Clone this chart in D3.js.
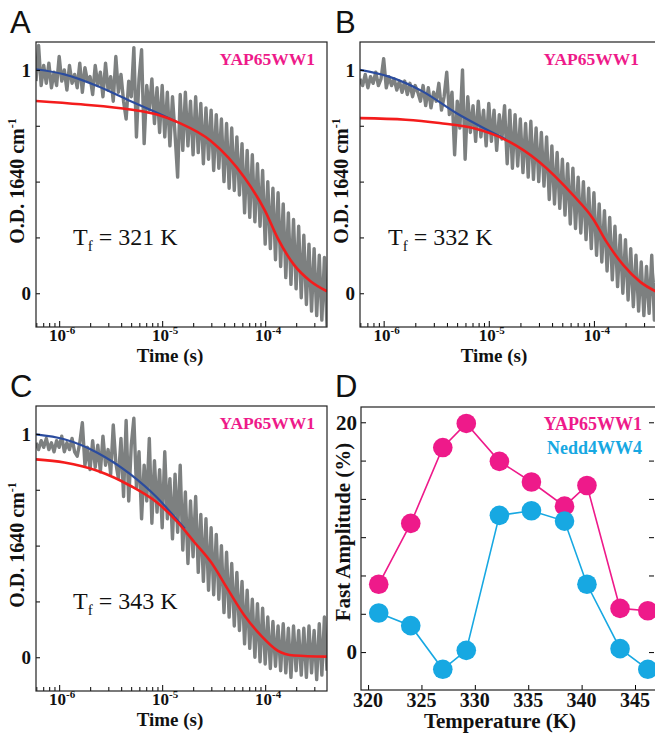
<!DOCTYPE html>
<html>
<head>
<meta charset="utf-8">
<script src="https://cdn.jsdelivr.net/npm/d3@7"></script>
<style>
  body { margin: 0; background: #fff; }
  svg { display: block; }
  text { fill: #111; }
</style>
</head>
<body>
<div id="chart"></div>
<script>
var logTime = [
  -6.225, -6.2, -6.175, -6.15, -6.125, -6.1, -6.075, -6.05,
  -6.025, -6, -5.975, -5.95, -5.925, -5.9, -5.875, -5.85,
  -5.825, -5.8, -5.775, -5.75, -5.725, -5.7, -5.675, -5.65,
  -5.625, -5.6, -5.575, -5.55, -5.525, -5.5, -5.475, -5.45,
  -5.425, -5.4, -5.375, -5.35, -5.325, -5.3, -5.275, -5.25,
  -5.225, -5.2, -5.175, -5.15, -5.125, -5.1, -5.075, -5.05,
  -5.025, -5, -4.975, -4.95, -4.925, -4.9, -4.875, -4.85,
  -4.825, -4.8, -4.775, -4.75, -4.725, -4.7, -4.675, -4.65,
  -4.625, -4.6, -4.575, -4.55, -4.525, -4.5, -4.475, -4.45,
  -4.425, -4.4, -4.375, -4.35, -4.325, -4.3, -4.275, -4.25,
  -4.225, -4.2, -4.175, -4.15, -4.125, -4.1, -4.075, -4.05,
  -4.025, -4, -3.975, -3.95, -3.925, -3.9, -3.875, -3.85,
  -3.825, -3.8, -3.775, -3.75, -3.725, -3.7, -3.675, -3.65,
  -3.625, -3.6, -3.575, -3.55, -3.525, -3.5, -3.475, -3.45, -3.425, -3.4
];

// raw traces (O.D. 1640 cm-1), one value per logTime entry
var grayA = [
  .95, 1.11, .93, 1.02, .94, 1.03, .92, .99,
  .93, 1.06, .95, 1.00, .91, 1.02, .94, .98,
  .92, 1.03, .90, 1.01, .95, .97, .89, 1.02,
  .93, .99, .88, 1.03, .91, .97, .86, 1.06,
  .90, .98, .86, .78, .95, .88, 1.10, .70,
  .96, 1.09, .67, .93, .82, .96, .76, .92,
  .72, .93, .70, .90, .66, .88, .71, .52,
  .89, .64, .90, .66, .86, .62, .88, .63,
  .85, .58, .83, .60, .82, .55, .80, .56,
  .78, .50, .76, .47, .74, .46, .70, .44,
  .67, .36, .64, .34, .62, .32, .58, .30,
  .55, .22, .50, .20, .47, .15, .45, .12,
  .40, .07, .36, .04, .33, .02, .30, -.02,
  .26, -.05, .22, -.08, .20, -.10, .17, -.12, .16, -.15
];
var grayB = [
  .96, .93, .98, .92, .97, .94, .99, .93,
  .96, 1.05, .92, .97, .93, .96, .91, .95,
  .90, .95, .89, .94, .88, .93, .90, .86,
  .93, .84, .92, .83, .90, .86, .94, .82,
  .88, .99, .80, .90, .62, .86, .74, 1.00,
  .60, .88, .72, .84, .68, .86, .70, .82,
  .66, .85, .68, .82, .64, .80, .69, .84,
  .58, .82, .56, .80, .57, .78, .54, .76,
  .52, .77, .51, .74, .50, .72, .48, .70,
  .42, .66, .40, .63, .38, .60, .35, .58,
  .31, .56, .29, .52, .27, .50, .24, .47,
  .20, .45, .17, .40, .14, .37, .10, .34,
  .06, .30, .03, .26, .00, .24, -.03, .20,
  -.06, .17, -.08, .14, -.10, .12, -.09, .17, -.12, .12
];
var grayC = [
  .96, .93, .97, .94, .98, .93, .96, .92,
  .97, .94, .99, .92, .96, .93, .98, .92,
  .90, .96, 1.05, .86, .94, .84, .97, .85,
  .95, .83, .99, .86, .93, .82, 1.04, .87,
  .80, .98, .72, 1.06, .70, .95, 1.07, .76,
  .92, .62, .86, .70, .98, .60, .88, .65,
  .84, .58, .92, .62, .80, .53, .82, .56,
  .86, .48, .74, .42, .70, .45, .72, .38,
  .64, .34, .62, .30, .58, .28, .55, .26,
  .50, .20, .47, .18, .42, .14, .38, .12,
  .34, .06, .30, .04, .26, .00, .24, -.02,
  .22, -.03, .18, -.05, .16, -.04, .14, -.06,
  .15, -.07, .13, -.09, .14, -.06, .12, -.08,
  .13, -.09, .14, -.07, .12, -.10, .15, -.08, .18, -.06
];

// fitted curves: [log10 time, O.D.]
var redA = [[-6.225, .861], [-5.79, .846], [-5.31, .823], [-5.05, .80], [-4.84, .764], [-4.53, .683],
            [-4.2, .517], [-4.0, .368], [-3.88, .248], [-3.72, .127], [-3.56, .054], [-3.4, .009]];
var blueA = [[-6.225, 1.003], [-5.95, .98], [-5.63, .928], [-5.31, .861], [-5.05, .808], [-4.86, .768]];
var redB = [[-6.225, .784], [-5.79, .777], [-5.47, .762], [-5.15, .74], [-4.84, .687], [-4.525, .59],
            [-4.2, .44], [-4.01, .335], [-3.88, .23], [-3.72, .126], [-3.56, .051], [-3.4, .006]];
var blueB = [[-6.225, 1.0], [-5.95, .97], [-5.63, .904], [-5.31, .807], [-5.05, .74], [-4.84, .69]];
var redC = [[-6.225, .886], [-5.95, .872], [-5.63, .835], [-5.31, .768], [-5.05, .693], [-4.85, .605],
            [-4.685, .514], [-4.525, .425], [-4.364, .305], [-4.2, .186], [-4.04, .097], [-3.88, .03],
            [-3.72, .008], [-3.4, .003]];
var blueC = [[-6.225, .998], [-5.95, .976], [-5.63, .916], [-5.31, .82], [-5.05, .715], [-4.85, .612], [-4.78, .575]];

var foldTemps = ['321', '332', '343'];

// panel D
var temperature = [321, 324, 327, 329.2, 332.3, 335.3, 338.4, 340.5, 343.6, 346.2];
var yapAmp = [5.9, 11.2, 17.8, 19.9, 16.6, 14.8, 12.7, 14.5, 3.8, 3.6];
var neddAmp = [3.4, 2.3, -1.5, 0.15, 11.9, 12.3, 11.4, 5.9, 0.3, -1.5];
var tempTicks = [320, 325, 330, 335, 340, 345];
var ampTicks = [0, 10 / 3, 20 / 3, 10, 40 / 3, 50 / 3, 20];
var ampLabels = [0, 20];
var odTicks = [0, 0.25, 0.5, 0.75, 1];
var odLabels = [0, 1];
var decadeLabels = [-6, -5, -4];

var PINK = '#ee1a8a', CYAN = '#17a8e2', GRAY = '#7d8080', RED = '#f41c1c', NAVY = '#2b4c9e';
var SERIF = "'Liberation Serif', 'Times New Roman', serif";
var SANS = "'Liberation Sans', Arial, sans-serif";

var svg = d3.select('#chart').append('svg').attr('width', 655).attr('height', 736);

function letter(s, x, y) {
  svg.append('text').attr('x', x).attr('y', y).attr('font-family', SANS)
    .attr('font-size', 31).text(s);
}

function kineticPanel(cfg) {
  var f = cfg.frame;
  var x = d3.scaleLog().domain([Math.pow(10, -6.225), Math.pow(10, -3.4)]).range([f.l, f.r]);
  var y = d3.scaleLinear().domain([-0.151, 1.125]).range([f.b, f.t]);
  var clipId = 'clip' + cfg.id;

  svg.append('clipPath').attr('id', clipId).append('rect')
    .attr('x', f.l).attr('y', f.t).attr('width', f.r - f.l).attr('height', f.b - f.t);

  var g = svg.append('g').attr('clip-path', 'url(#' + clipId + ')');
  var line = d3.line()
    .x(function(d) { return x(Math.pow(10, d[0])); })
    .y(function(d) { return y(d[1]); });

  var raw = logTime.map(function(t, i) { return [t, cfg.gray[i]]; });
  g.append('path').datum(raw).attr('d', line)
    .attr('fill', 'none').attr('stroke', GRAY).attr('stroke-width', 3.4).attr('stroke-linejoin', 'round');

  var smooth = d3.line()
    .x(function(d) { return x(Math.pow(10, d[0])); })
    .y(function(d) { return y(d[1]); })
    .curve(d3.curveMonotoneX);
  g.append('path').datum(cfg.blue).attr('d', smooth)
    .attr('fill', 'none').attr('stroke', NAVY).attr('stroke-width', 2.2);
  g.append('path').datum(cfg.red).attr('d', smooth)
    .attr('fill', 'none').attr('stroke', RED).attr('stroke-width', 2.6);

  // axes, ticks inside the frame
  var minor = x.ticks().filter(function(v) {
    var e = Math.log10(v); return Math.abs(e - Math.round(e)) > 1e-6;
  });
  var major = decadeLabels.map(function(e) { return Math.pow(10, e); });
  svg.append('g').attr('transform', 'translate(0,' + f.b + ')')
    .call(d3.axisBottom(x).tickValues(minor).tickSize(-4).tickFormat(''))
    .call(function(a) { a.select('.domain').remove(); });
  svg.append('g').attr('transform', 'translate(0,' + f.b + ')')
    .call(d3.axisBottom(x).tickValues(major).tickSize(-6).tickFormat(''))
    .call(function(a) { a.select('.domain').remove(); });
  svg.append('g').attr('transform', 'translate(' + f.l + ',0)')
    .call(d3.axisLeft(y).tickValues(odTicks).tickSize(-4).tickFormat(''))
    .call(function(a) { a.select('.domain').remove(); });

  svg.append('rect').attr('x', f.l).attr('y', f.t).attr('width', f.r - f.l).attr('height', f.b - f.t)
    .attr('fill', 'none').attr('stroke', '#222').attr('stroke-width', 1.2);

  odLabels.forEach(function(v) {
    svg.append('text').attr('x', f.l - 5).attr('y', y(v)).attr('dy', '0.35em')
      .attr('text-anchor', 'end').attr('font-family', SERIF).attr('font-weight', 'bold')
      .attr('font-size', 19).text(v);
  });

  decadeLabels.forEach(function(e) {
    var t = svg.append('text').attr('x', x(Math.pow(10, e)) + 3).attr('y', f.b + 14)
      .attr('text-anchor', 'middle').attr('font-family', SERIF).attr('font-weight', 'bold')
      .attr('font-size', 17);
    t.append('tspan').text('10');
    t.append('tspan').attr('font-size', 11).attr('dy', -7).text(e);
  });

  svg.append('text').attr('x', f.l + 134).attr('y', f.b + 35)
    .attr('text-anchor', 'middle').attr('font-family', SERIF).attr('font-weight', 'bold')
    .attr('font-size', 19).text('Time (s)');

  var yl = svg.append('text').attr('transform', 'translate(' + (f.l - 12) + ',' + (f.t + 139) + ') rotate(-90)')
    .attr('text-anchor', 'middle').attr('font-family', SERIF).attr('font-weight', 'bold')
    .attr('font-size', 20);
  yl.append('tspan').text('O.D. 1640 cm');
  yl.append('tspan').attr('font-size', 12).attr('dy', -8).text('-1');

  svg.append('text').attr('x', f.l + 279).attr('y', f.t + 23).attr('text-anchor', 'end')
    .attr('font-family', SERIF).attr('font-weight', 'bold').attr('font-size', 17.5)
    .style('fill', PINK).text('YAP65WW1');

  var tf = svg.append('text').attr('x', cfg.tfX).attr('y', f.t + 203)
    .attr('font-family', SERIF).attr('font-size', 24);
  tf.append('tspan').text('T');
  tf.append('tspan').attr('font-size', 15).attr('dy', 6).text('f');
  tf.append('tspan').attr('dy', -6).text(' = ' + cfg.temp + ' K');
}

kineticPanel({id: 'A', frame: {l: 36, t: 42, r: 327, b: 327}, gray: grayA, red: redA, blue: blueA, temp: foldTemps[0], tfX: 73});
kineticPanel({id: 'B', frame: {l: 360, t: 42, r: 657, b: 327}, gray: grayB, red: redB, blue: blueB, temp: foldTemps[1], tfX: 388});
kineticPanel({id: 'C', frame: {l: 36, t: 406, r: 327, b: 691}, gray: grayC, red: redC, blue: blueC, temp: foldTemps[2], tfX: 73});

// panel D: fast amplitude vs temperature
(function() {
  var f = {l: 361, t: 407, r: 657, b: 690};
  var x = d3.scaleLinear().domain([319.34, 347.06]).range([f.l, f.r]);
  var y = d3.scaleLinear().domain([-3.3, 21.33]).range([f.b, f.t]);

  svg.append('g').attr('transform', 'translate(0,' + f.b + ')')
    .call(d3.axisBottom(x).tickValues(tempTicks).tickSize(-5).tickFormat(''))
    .call(function(a) { a.select('.domain').remove(); });
  svg.append('g').attr('transform', 'translate(' + f.l + ',0)')
    .call(d3.axisLeft(y).tickValues(ampTicks).tickSize(-5).tickFormat(''))
    .call(function(a) { a.select('.domain').remove(); });
  svg.append('g').attr('transform', 'translate(' + (f.r - 3) + ',0)')
    .call(d3.axisRight(y).tickValues(ampTicks).tickSize(-5).tickFormat(''))
    .call(function(a) { a.select('.domain').remove(); });

  var series = [{v: yapAmp, c: PINK}, {v: neddAmp, c: CYAN}];
  var line = d3.line().x(function(d) { return x(d[0]); }).y(function(d) { return y(d[1]); });
  series.forEach(function(s) {
    var pts = temperature.map(function(t, i) { return [t, s.v[i]]; });
    svg.append('path').datum(pts).attr('d', line)
      .attr('fill', 'none').attr('stroke', s.c).attr('stroke-width', 1.6);
    svg.append('g').selectAll('circle').data(pts).enter().append('circle')
      .attr('cx', function(d) { return x(d[0]); })
      .attr('cy', function(d) { return y(d[1]); })
      .attr('r', 9.8).attr('fill', s.c);
  });

  svg.append('rect').attr('x', f.l).attr('y', f.t).attr('width', f.r - f.l).attr('height', f.b - f.t)
    .attr('fill', 'none').attr('stroke', '#222').attr('stroke-width', 1.2);

  tempTicks.forEach(function(t) {
    svg.append('text').attr('x', x(t)).attr('y', f.b + 17).attr('text-anchor', 'middle')
      .attr('font-family', SERIF).attr('font-weight', 'bold').attr('font-size', 20).text(t);
  });
  ampLabels.forEach(function(v) {
    svg.append('text').attr('x', f.l - 4).attr('y', y(v)).attr('dy', '0.35em').attr('text-anchor', 'end')
      .attr('font-family', SERIF).attr('font-weight', 'bold').attr('font-size', 21).text(v);
  });

  svg.append('text').attr('x', 500).attr('y', 728).attr('text-anchor', 'middle')
    .attr('font-family', SERIF).attr('font-weight', 'bold').attr('font-size', 21).text('Temperature (K)');
  svg.append('text').attr('transform', 'translate(350,532) rotate(-90)').attr('text-anchor', 'middle')
    .attr('font-family', SERIF).attr('font-weight', 'bold').attr('font-size', 21).text('Fast Amplitude (%)');

  svg.append('text').attr('x', 642).attr('y', 430).attr('text-anchor', 'end')
    .attr('font-family', SERIF).attr('font-weight', 'bold').attr('font-size', 18)
    .style('fill', PINK).text('YAP65WW1');
  svg.append('text').attr('x', 642).attr('y', 454).attr('text-anchor', 'end')
    .attr('font-family', SERIF).attr('font-weight', 'bold').attr('font-size', 18)
    .style('fill', CYAN).text('Nedd4WW4');
})();

letter('A', 10, 33);
letter('B', 335, 33);
letter('C', 10, 397);
letter('D', 335, 397);
</script>
</body>
</html>
